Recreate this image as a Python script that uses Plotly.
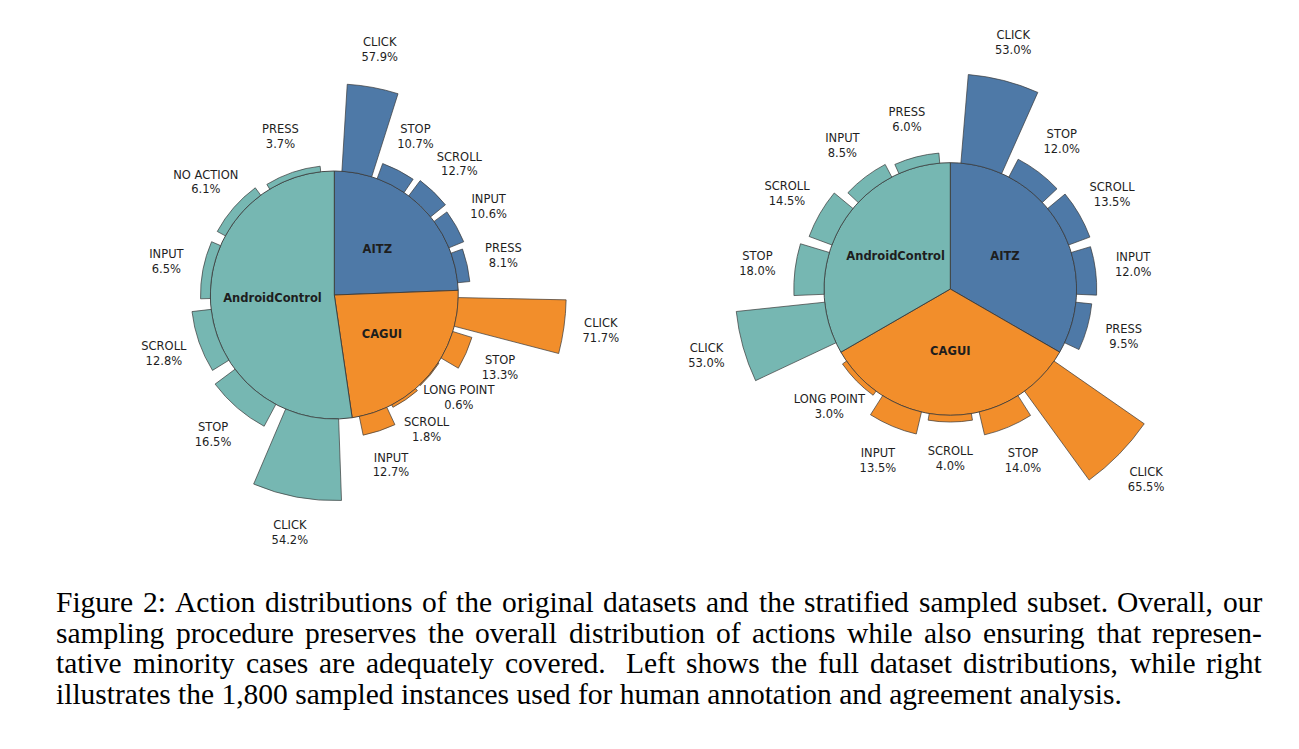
import numpy as np
import plotly.graph_objects as go

# ---------------- data ----------------
dataset_names = ["AITZ", "CAGUI", "AndroidControl"]
dataset_colors = ["#4E79A7", "#F28E2B", "#76B7B2"]

# left: full datasets (share of the inner pie, %)
full_share = [24.4, 23.3, 52.3]
full_aitz_actions = ["CLICK", "STOP", "SCROLL", "INPUT", "PRESS"]
full_aitz_pct = [57.9, 10.7, 12.7, 10.6, 8.1]
full_cagui_actions = ["CLICK", "STOP", "LONG POINT", "SCROLL", "INPUT"]
full_cagui_pct = [71.7, 13.3, 0.6, 1.8, 12.7]
full_android_actions = ["CLICK", "STOP", "SCROLL", "INPUT", "NO ACTION", "PRESS"]
full_android_pct = [54.2, 16.5, 12.8, 6.5, 6.1, 3.7]

# right: stratified sample (1,800 instances)
sample_share = [600, 600, 600]
sample_aitz_actions = ["CLICK", "STOP", "SCROLL", "INPUT", "PRESS"]
sample_aitz_pct = [53.0, 12.0, 13.5, 12.0, 9.5]
sample_cagui_actions = ["CLICK", "STOP", "SCROLL", "INPUT", "LONG POINT"]
sample_cagui_pct = [65.5, 14.0, 4.0, 13.5, 3.0]
sample_android_actions = ["CLICK", "STOP", "SCROLL", "INPUT", "PRESS"]
sample_android_pct = [53.0, 18.0, 14.5, 8.5, 6.0]

caption_lines = [
    "Figure 2: Action distributions of the original datasets and the stratified sampled subset. Overall, our",
    "sampling procedure preserves the overall distribution of actions while also ensuring that represen-",
    "tative minority cases are adequately covered.  Left shows the full dataset distributions, while right",
    "illustrates the 1,800 sampled instances used for human annotation and agreement analysis.",
]

# ---------------- layout constants ----------------
W, H = 1299, 749
OFF = 8  # page body margin
LABEL_FONT = "DejaVu Sans"
EDGE = "#3a3a3a"
TXT = "#1e1e1e"
FS = 11.5

fig = go.Figure()


def add_chart(polar_id, shares, actions_list, pct_list):
    total = float(sum(shares))
    max_pct = max(max(p) for p in pct_list)
    start = 90.0
    for name, color, share, acts, pcts in zip(dataset_names, dataset_colors, shares, actions_list, pct_list):
        span = 360.0 * share / total
        a0, a1 = start, start - span
        mid = (a0 + a1) / 2
        # inner pie slice
        fig.add_trace(go.Barpolar(
            r=[1.0], theta=[mid], width=[span], base=[0],
            marker=dict(color=color, line=dict(color=EDGE, width=0.9)),
            subplot=polar_id, showlegend=False, hoverinfo="skip"))
        # outer bars
        n = len(acts)
        slot = span / n
        pad = 0.6 * slot
        centers = np.linspace(a0 - pad, a1 + pad, n)
        heights = [p / max_pct * 0.87 for p in pcts]
        fig.add_trace(go.Barpolar(
            r=heights, theta=centers, width=[0.8 * slot] * n, base=[1.0] * n,
            marker=dict(color=color, line=dict(color=EDGE, width=0.7)),
            subplot=polar_id, showlegend=False, hoverinfo="skip"))
        # labels
        fig.add_trace(go.Scatterpolar(
            r=[1.0 + h + 0.3 for h in heights], theta=centers, mode="text",
            text=[f"{a}<br>{p:.1f}%" for a, p in zip(acts, pcts)],
            textfont=dict(family=LABEL_FONT, size=FS, color=TXT),
            textposition="middle center", cliponaxis=False,
            subplot=polar_id, showlegend=False, hoverinfo="skip"))
        fig.add_trace(go.Scatterpolar(
            r=[0.5], theta=[mid], mode="text",
            text=[f"<b>{name}</b>"],
            textfont=dict(family=LABEL_FONT, size=FS, color=TXT),
            textposition="middle center", cliponaxis=False,
            subplot=polar_id, showlegend=False, hoverinfo="skip"))
        start = a1


add_chart("polar", full_share,
          [full_aitz_actions, full_cagui_actions, full_android_actions],
          [full_aitz_pct, full_cagui_pct, full_android_pct])
add_chart("polar2", sample_share,
          [sample_aitz_actions, sample_cagui_actions, sample_android_actions],
          [sample_aitz_pct, sample_cagui_pct, sample_android_pct])


def polar_layout(cx, cy, rpx, out_px):
    cx -= OFF
    cy -= OFF
    return dict(
        domain=dict(x=[(cx - out_px) / W, (cx + out_px) / W],
                    y=[1 - (cy + out_px) / H, 1 - (cy - out_px) / H]),
        bgcolor="rgba(0,0,0,0)",
        angularaxis=dict(visible=False, showgrid=False, direction="counterclockwise", rotation=0),
        radialaxis=dict(visible=False, showgrid=False, range=[0, out_px / rpx]),
    )


# ---------------- caption (justified, Times metrics) ----------------
TW = {' ': 250, ',': 250, '-': 333, '.': 250, ':': 278, '0': 500, '1': 500, '2': 500, '8': 500,
      'A': 722, 'F': 556, 'L': 611, 'O': 722,
      'a': 444, 'b': 500, 'c': 444, 'd': 500, 'e': 444, 'f': 333, 'g': 500, 'h': 500, 'i': 278,
      'j': 278, 'k': 500, 'l': 278, 'm': 778, 'n': 500, 'o': 500, 'p': 500, 'q': 500, 'r': 333,
      's': 389, 't': 278, 'u': 500, 'v': 500, 'w': 722, 'x': 500, 'y': 500, 'z': 444}


def tw(s, fs):
    return sum(TW.get(c, 500) for c in s) / 1000.0 * fs


CFS = 29.5
X0, X1 = 55 - OFF, 1261 - OFF
baselines = [612 - OFF, 642.5 - OFF, 673 - OFF, 703.5 - OFF]
annotations = []
cfont = dict(family="Liberation Serif", size=CFS, color="#000000")
for i, (line, bl) in enumerate(zip(caption_lines, baselines)):
    ymid = 1 - (bl - 0.3375 * CFS) / H
    if i == len(caption_lines) - 1:
        annotations.append(dict(text=line, x=X0 / W, y=ymid, xref="paper", yref="paper",
                                xanchor="left", yanchor="middle", showarrow=False, borderpad=0,
                                font=cfont))
        continue
    chunks = line.split(" ")
    words, extra = [], []
    for c in chunks:
        if c == "":
            if extra:
                extra[-1] += 1
        else:
            words.append(c)
            extra.append(0)
    widths = [tw(w, CFS) for w in words]
    extra_px = [e * 0.3 * CFS for e in extra[:-1]]
    gap = (X1 - X0 - sum(widths) - sum(extra_px)) / (len(words) - 1)
    x = X0
    for k, (w, ww) in enumerate(zip(words, widths)):
        annotations.append(dict(text=w, x=x / W, y=ymid, xref="paper", yref="paper",
                                xanchor="left", yanchor="middle", showarrow=False, borderpad=0,
                                font=cfont))
        x += ww + gap + (extra_px[k] if k < len(extra_px) else 0)

fig.update_layout(
    width=W, height=H,
    margin=dict(l=0, r=0, t=0, b=0),
    paper_bgcolor="white", plot_bgcolor="white",
    polar=polar_layout(334.3, 295.0, 124.0, 285),
    polar2=polar_layout(950.3, 289.0, 126.3, 280),
    annotations=annotations,
    showlegend=False,
)

fig.write_html("out.html")
